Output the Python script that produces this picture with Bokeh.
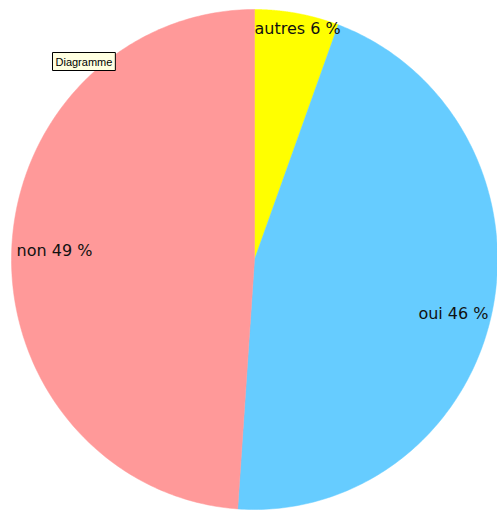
import numpy as np
from bokeh.plotting import figure
from bokeh.models import Range1d, Label, ColumnDataSource
from bokeh.embed import file_html
from bokeh.resources import INLINE

# data
categories = ["autres", "oui", "non"]
shares = [5.6, 45.5, 48.9]
labels = ["autres 6 %", "oui 46 %", "non 49 %"]
colors = ["#ffff00", "#66ccff", "#ff9999"]

W, H = 497, 510
CX, CY = 254, 259          # pie centre in pixels from top-left
RX, RY = 243.0, 250.0      # pie radii in pixels
p = figure(width=W, height=H, output_backend="svg", toolbar_location=None,
           x_range=Range1d(-CX / RX, (W - CX) / RX),
           y_range=Range1d(-(H - CY) / RY, CY / RY),
           min_border=0)
p.axis.visible = False
p.xgrid.visible = False
p.ygrid.visible = False
p.outline_line_color = None
p.background_fill_color = "white"

# elliptical pie slices, clockwise from 12 o'clock
fr = np.array(shares) / sum(shares)
cum = np.concatenate([[0], np.cumsum(fr)])
xs, ys = [], []
for i in range(len(shares)):
    t = np.linspace(cum[i], cum[i + 1], 200)
    ang = np.pi / 2 - 2 * np.pi * t
    xs.append([0.0] + list(np.cos(ang)) + [0.0])
    ys.append([0.0] + list(np.sin(ang)) + [0.0])
src = ColumnDataSource(dict(xs=xs, ys=ys, color=colors, cat=categories))
p.patches("xs", "ys", source=src, fill_color="color", line_color="color", line_width=0.5)

# slice labels
pos = {"autres": (0.0, 0.924, "left"), "oui": (0.963, -0.216, "right"), "non": (-0.979, 0.036, "left")}
for c, lab in zip(categories, labels):
    x, y, al = pos[c]
    p.add_layout(Label(x=x, y=y, text=lab, text_align=al, text_baseline="middle",
                       text_font="DejaVu Sans", text_font_size="16px", text_color="#111111"))

# tooltip-like box
p.add_layout(Label(x=52, y=H - 61, x_units="screen", y_units="screen", text="Diagramme",
                   text_baseline="middle", text_font="Liberation Sans", text_font_size="11px",
                   text_color="black", background_fill_color="#ffffe1",
                   border_line_color="black", border_line_width=1, padding=3))

open("out.html", "w").write(file_html(p, INLINE))
